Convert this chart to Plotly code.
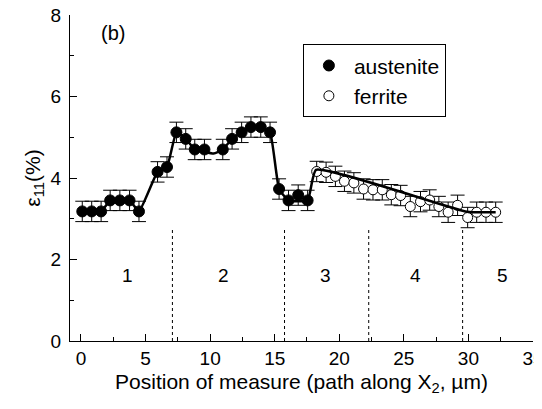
import plotly.graph_objects as go

# austenite measurements (filled circles)
aus_x = [0.10, 0.83, 1.56, 2.26, 3.01, 3.76, 4.49, 5.93, 6.66, 7.39, 8.11, 8.81,
         9.56, 10.98, 11.70, 12.44, 13.16, 13.92, 14.64, 15.34, 16.07, 16.82, 17.55]
aus_y = [3.18, 3.18, 3.18, 3.45, 3.45, 3.45, 3.18, 4.15, 4.27, 5.12, 4.96, 4.70,
         4.70, 4.70, 4.96, 5.12, 5.25, 5.25, 5.12, 3.73, 3.45, 3.58, 3.45]

# ferrite measurements (open circles)
fer_x = [18.25, 18.98, 19.70, 20.40, 21.13, 21.88, 22.61, 23.33, 24.03, 24.75,
         25.50, 26.29, 27.00, 27.71, 28.43, 29.16, 29.94, 30.64, 31.36, 32.11]
fer_y = [4.16, 4.14, 4.04, 3.92, 3.88, 3.73, 3.71, 3.71, 3.59, 3.57,
         3.30, 3.42, 3.46, 3.30, 3.16, 3.33, 3.03, 3.16, 3.16, 3.16]

err = 0.25

# trend line
fit_x = [0.10, 1.56, 2.26, 3.76, 4.49, 5.93, 6.66, 7.39, 8.11, 8.81, 9.56, 10.27,
         10.98, 11.70, 12.44, 13.16, 13.92, 14.64, 15.34, 16.07, 17.55, 18.20, 29.90, 32.11]
fit_y = [3.18, 3.18, 3.45, 3.45, 3.18, 4.15, 4.27, 5.12, 4.96, 4.70, 4.64, 4.60,
         4.70, 4.96, 5.12, 5.25, 5.25, 5.12, 3.73, 3.45, 3.45, 4.20, 3.17, 3.16]

# zone boundaries and zone labels
bound_x = [7.08, 15.76, 22.28, 29.55]
bound_top = 2.77
zone_x = [3.6, 11.0, 18.9, 25.9, 32.6]
zone_y = 1.6
zone_names = ["1", "2", "3", "4", "5"]

font = "Liberation Sans, Arial, sans-serif"

fig = go.Figure()

fig.add_trace(go.Scatter(
    x=aus_x, y=aus_y, mode="markers", name="austenite",
    marker=dict(color="black", size=11, line=dict(color="black", width=1)),
    error_y=dict(type="constant", value=err, color="black", thickness=1, width=7)))

fig.add_trace(go.Scatter(
    x=fer_x, y=fer_y, mode="markers", name="ferrite",
    marker=dict(color="white", size=10, line=dict(color="black", width=1)),
    error_y=dict(type="constant", value=err, color="black", thickness=1, width=7)))

fig.add_trace(go.Scatter(
    x=fit_x, y=fit_y, mode="lines",
    line=dict(color="black", width=2.5, shape="spline", smoothing=0.4),
    showlegend=False, hoverinfo="skip"))

for bx in bound_x:
    fig.add_shape(type="line", x0=bx, x1=bx, y0=0, y1=bound_top, xref="x", yref="y",
                  line=dict(color="black", width=1, dash="dot"))

for zx, zn in zip(zone_x, zone_names):
    fig.add_annotation(x=zx, y=zone_y, text=zn, showarrow=False,
                       font=dict(size=19, color="black", family=font))

fig.add_annotation(x=0.093, y=0.945, xref="paper", yref="paper", text="(b)",
                   xanchor="center", yanchor="middle",
                   showarrow=False, font=dict(size=20, color="black", family=font))

# page body has an 8px margin, so the figure is a bit smaller than the window
fig.update_layout(
    width=534, height=401,
    margin=dict(l=62, r=9, t=7, b=68),
    plot_bgcolor="white", paper_bgcolor="white",
    font=dict(family=font, size=19, color="black"),
    legend=dict(x=0.503, y=0.91, xanchor="left", yanchor="top",
                bordercolor="black", borderwidth=1, bgcolor="white",
                font=dict(size=21), itemwidth=40, tracegroupgap=0),
    xaxis=dict(range=[-0.85, 35], tickvals=[0, 5, 10, 15, 20, 25, 30, 35],
               ticks="inside", ticklen=7, tickcolor="black", automargin=False,
               ticklabeloverflow="allow",
               minor=dict(dtick=2.5, tick0=0, ticks="inside", ticklen=4, tickcolor="black"),
               showline=True, linecolor="black", linewidth=1, showgrid=False, zeroline=False,
               title=dict(text="Position of measure (path along X<sub>2</sub>, µm)",
                          font=dict(size=21), standoff=6)),
    yaxis=dict(range=[0, 8], tickvals=[0, 2, 4, 6, 8],
               ticks="inside", ticklen=7, tickcolor="black", automargin=False,
               ticklabeloverflow="allow",
               minor=dict(dtick=1, tick0=0, ticks="inside", ticklen=4, tickcolor="black"),
               showline=True, linecolor="black", linewidth=1, showgrid=False, zeroline=False,
               ticklabelstandoff=4,
               title=dict(text="ε<sub>11</sub>(%)", font=dict(size=21), standoff=4)),
)

fig.write_html("out.html")
